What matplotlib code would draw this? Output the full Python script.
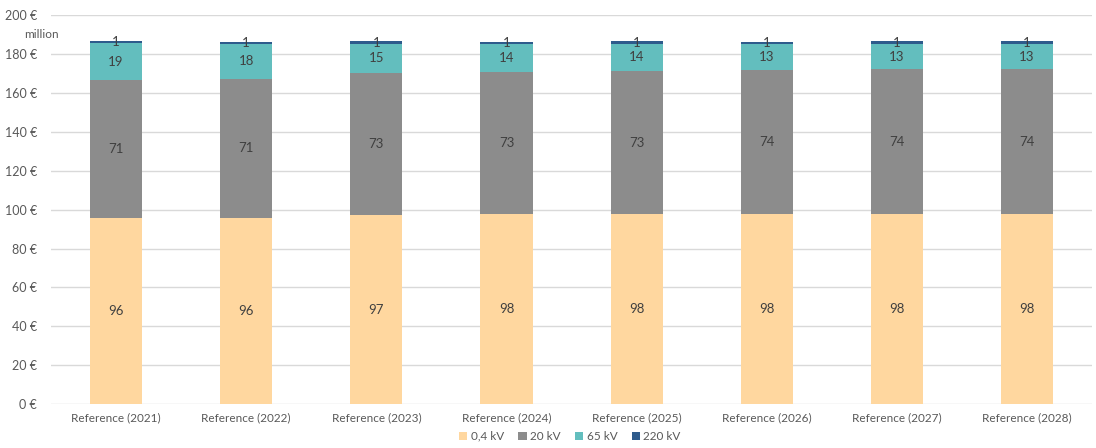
import numpy as np
import matplotlib.pyplot as plt

plt.rcParams['font.family'] = ['Lato', 'DejaVu Sans']

years = ['Reference (2021)', 'Reference (2022)', 'Reference (2023)', 'Reference (2024)',
         'Reference (2025)', 'Reference (2026)', 'Reference (2027)', 'Reference (2028)']
kv04 = [95.8, 95.8, 97.2, 97.6, 97.8, 98.0, 98.0, 98.0]
kv20 = [71.1, 71.4, 72.9, 73.3, 73.4, 73.9, 74.1, 74.1]
kv65 = [18.6, 18.1, 15.3, 14.4, 14.2, 13.4, 13.3, 13.3]
kv220 = [1.1, 1.1, 1.1, 1.1, 1.1, 1.1, 1.1, 1.1]

series = [('0,4 kV', kv04, '#FFD79F'),
          ('20 kV', kv20, '#8C8C8C'),
          ('65 kV', kv65, '#63BEBE'),
          ('220 kV', kv220, '#2E5B8C')]

fig = plt.figure(figsize=(10.96, 4.48), dpi=100)
ax = fig.add_axes([0.0465, 0.098, 0.95, 0.868])

x = np.arange(len(years))
bottom = np.zeros(len(years))
for name, vals, col in series:
    vals = np.array(vals)
    bars = ax.bar(x, vals, 0.4, bottom=bottom, color=col, label=name, zorder=2)
    for rec, v, b in zip(bars, vals, bottom):
        ax.text(rec.get_x() + rec.get_width() / 2, b + v / 2, '{:.0f}'.format(v),
                ha='center', va='center', fontsize=9.5, color='#404040', zorder=3)
    bottom += vals

ax.set_xlim(-0.5, len(years) - 0.5)
ax.set_ylim(0, 200)
ax.set_yticks(range(0, 201, 20))
ax.set_yticklabels(['{} €'.format(v) for v in range(0, 201, 20)])
ax.set_xticks(x)
ax.set_xticklabels(years)
ax.yaxis.grid(True, color='#D9D9D9', linewidth=1, zorder=0)
for s in ax.spines.values():
    s.set_visible(False)
ax.tick_params(axis='both', length=0, labelsize=8.5, labelcolor='#595959')
ax.tick_params(axis='y', labelsize=9, pad=10)
ax.tick_params(axis='x', pad=6)

fig.text(0.038, 0.922, 'million', fontsize=8.5, color='#595959', ha='center', va='center')

leg = fig.legend(loc='lower center', bbox_to_anchor=(0.52, -0.01), ncol=4, frameon=False,
                 fontsize=8.5, handlelength=0.7, handleheight=0.7, handletextpad=0.3,
                 columnspacing=1.2)
for t in leg.get_texts():
    t.set_color('#595959')

fig.savefig('out.png', dpi=100)
